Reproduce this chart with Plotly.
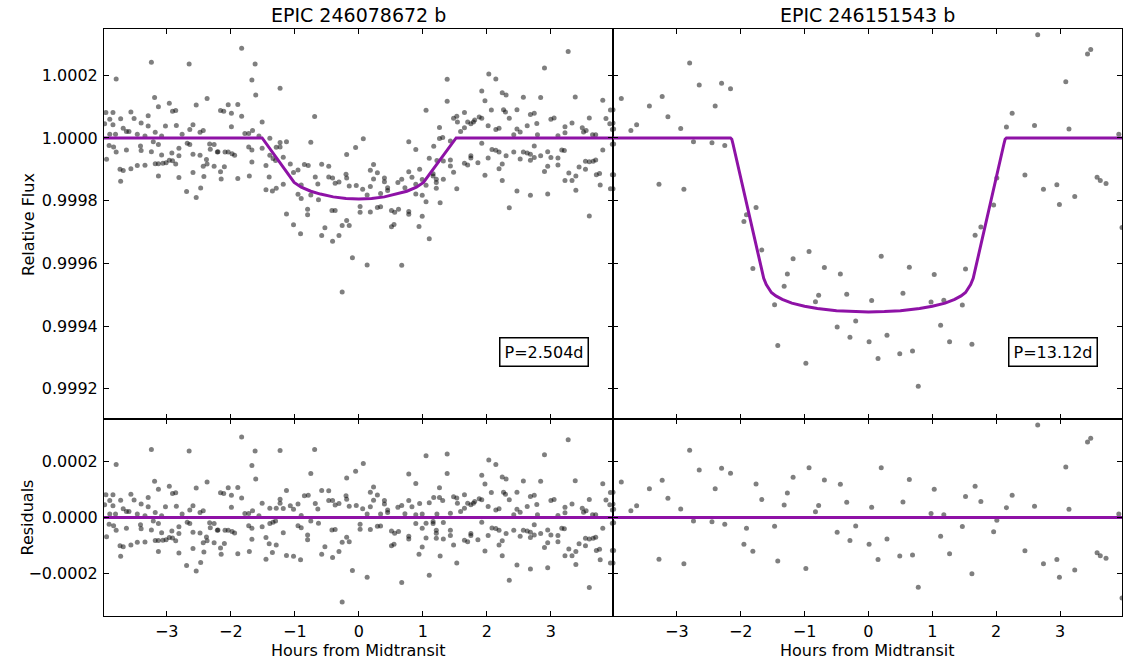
import numpy as np
import plotly.graph_objects as go
from plotly.subplots import make_subplots

# ---------------- data ----------------
TITLES = ["EPIC 246078672 b", "EPIC 246151543 b"]
PERIOD_LABELS = ["P=2.504d", "P=13.12d"]
X_TICKS = [-3, -2, -1, 0, 1, 2, 3]
FLUX_TICKS = [0.9992, 0.9994, 0.9996, 0.9998, 1.0000, 1.0002]
RESID_TICKS = [-0.0002, 0.0, 0.0002]
RESID_TICKTEXT = ["\u22120.0002", "0.0000", "0.0002"]
RESID_UNIT = 1e-4

# transit models (hours from midtransit, relative flux)
LEFT_MODEL_X = [-3.98, -1.51, -1.01, -0.9, -0.75, -0.6, -0.4, -0.2, 0.0,
                0.2, 0.4, 0.6, 0.75, 0.9, 1.01, 1.52, 3.97]
LEFT_MODEL_Y = [1.0, 1.0, 0.999858, 0.999843, 0.999830, 0.999821, 0.999812, 0.999807, 0.999805,
                0.999807, 0.999812, 0.999821, 0.999830, 0.999843, 0.999858, 1.0, 1.0]
RIGHT_MODEL_X = [-4.0, -2.16, -2.14, -2.12, -1.64, -1.60, -1.52, -1.45, -1.35, -1.2, -1.0, -0.8, -0.5, -0.25, 0.0,
                 0.25, 0.5, 0.8, 1.0, 1.2, 1.35, 1.45, 1.52, 1.60, 1.64, 2.12, 2.14, 2.16, 3.97]
RIGHT_MODEL_Y = [1.0, 1.0, 0.999996, 0.99998, 0.999552, 0.999532, 0.999507, 0.999496, 0.999485, 0.999473, 0.999463,
                 0.999456, 0.999449, 0.999446, 0.999445,
                 0.999446, 0.999449, 0.999456, 0.999463, 0.999473, 0.999485, 0.999496, 0.999507, 0.999532,
                 0.999552, 0.99998, 0.999996, 1.0, 1.0]

# residuals (hours, residual in units of 1e-4) for EPIC 246078672 b
LEFT_PTS_A = [(-3.79, 1.88), (-3.95, 0.81), (-3.84, 0.81), (-3.89, 0.60), (-3.84, 0.42), (-3.97, 0.45),
              (-3.89, 0.12), (-3.80, 0.12), (-3.72, 0.61), (-3.68, 0.31), (-3.63, 0.21), (-3.59, 0.21),
              (-3.56, 0.83), (-3.51, 0.62), (-3.46, 0.12), (-3.40, 0.48), (-3.34, 0.06), (-3.29, 0.71),
              (-3.29, 0.38), (-3.24, 2.42), (-3.19, 1.29), (-3.18, 0.18), (-3.13, 1.00), (-3.08, 0.06),
              (-3.02, 0.38), (-2.96, 1.11), (-2.91, 0.85), (-2.86, 0.88), (-2.85, 0.40), (-2.76, 0.12),
              (-2.65, 2.36), (-2.64, 0.27), (-2.59, 0.42), (-2.54, 1.05), (-2.48, 0.18), (-2.43, 0.24),
              (-2.37, 1.26), (-2.16, 0.88), (-2.11, 0.85), (-2.04, 1.06), (-1.99, 0.79), (-1.99, 0.36),
              (-1.89, 1.07), (-1.83, 2.86), (-1.83, 0.69), (-1.78, 0.14), (-1.72, 0.14), (-1.67, 1.85),
              (-1.66, 0.24), (-1.62, 2.36), (-1.61, 1.37), (-1.56, 0.06), (-1.51, 0.51), (-1.39, 0.33),
              (-1.29, 0.33), (-1.23, 2.38), (-1.23, 0.65), (-1.23, 0.51), (-1.18, 0.32), (-1.13, 0.96),
              (-1.07, 0.42), (-1.02, 0.29), (-0.95, 0.48), (-0.90, 0.07), (-0.85, 0.77), (-0.79, 0.79),
              (-0.75, 1.56), (-0.69, 2.42), (-0.68, 0.50), (-0.64, 0.30), (-0.58, 0.96), (-0.47, 0.95),
              (-0.47, 0.60), (-0.41, 0.60), (-0.37, 0.44), (-0.31, 0.50), (-0.20, 0.77), (-0.19, 1.40),
              (-0.19, 0.65), (-0.15, 0.40), (-0.05, 1.64), (-0.04, 0.43), (-0.10, -1.88), (-0.26, -3.00)]
LEFT_PTS_B = [(-3.94, -0.68), (-3.90, -0.24), (-3.83, -0.29), (-3.79, -0.45), (-3.73, -1.00), (-3.68, -1.04),
              (-3.72, -1.38), (-3.63, -0.38), (-3.56, -0.98), (-3.46, -0.88), (-3.41, -0.26), (-3.40, -0.40),
              (-3.34, -0.87), (-3.24, -0.44), (-3.21, -0.12), (-3.18, -0.82), (-3.13, -0.82), (-3.13, -0.21),
              (-3.13, -1.21), (-3.08, -0.54), (-3.06, -0.81), (-3.01, -0.79), (-2.96, -0.71), (-2.91, -0.73),
              (-2.92, -0.48), (-2.86, -0.83), (-2.81, -0.33), (-2.81, -0.57), (-2.81, -1.26), (-2.69, -1.71),
              (-2.68, -0.17), (-2.64, -0.21), (-2.59, -0.52), (-2.59, -1.10), (-2.54, -1.90), (-2.48, -0.55),
              (-2.47, -1.60), (-2.43, -0.90), (-2.42, -1.23), (-2.38, -0.69), (-2.37, -0.83), (-2.33, -0.19),
              (-2.32, -0.36), (-2.26, -0.90), (-2.26, -0.21), (-2.21, -0.45), (-2.20, -0.44), (-2.16, -1.08),
              (-2.15, -1.31), (-2.10, -0.92), (-2.09, -0.45), (-2.04, -0.45), (-1.98, -0.50), (-1.94, -0.55),
              (-1.89, -1.29), (-1.72, -0.29), (-1.71, -1.21), (-1.67, -0.38), (-1.67, -0.77), (-1.51, -0.33),
              (-1.45, -0.71), (-1.45, -1.48), (-1.40, -0.93), (-1.35, -1.24), (-1.39, -0.21), (-1.34, -0.17),
              (-1.30, -0.12), (-1.29, -0.98), (-1.18, -0.54), (-1.13, -1.35), (-1.02, -1.38), (-0.95, -0.29),
              (-0.91, -1.50), (-0.90, -0.36), (-0.80, -0.62), (-0.80, -0.79), (-0.75, -0.12), (-0.63, -0.20),
              (-0.58, -1.31), (-0.53, -1.04), (-0.42, -0.44), (-0.37, -0.43), (-0.41, -1.42), (-0.31, -1.21),
              (-0.26, -0.88), (-0.19, -0.70), (-0.15, -0.86)]
LEFT_PTS_C = [(0.07, 1.92), (0.06, 0.31), (0.13, 0.12), (0.18, 0.90), (0.23, 1.08), (0.23, 0.61),
              (0.29, 0.80), (0.18, 0.38), (0.34, 0.12), (0.40, 0.60), (0.40, 0.48), (0.45, 0.27),
              (0.45, 0.18), (0.61, 0.36), (0.67, 0.43), (0.72, 0.13), (0.78, 1.55), (0.78, 0.60),
              (0.83, 0.38), (0.89, 1.21), (0.89, 0.10), (0.95, 0.50), (0.99, 0.12), (1.05, 2.19),
              (1.10, 0.52), (1.17, 0.71), (1.22, 0.12), (1.26, 0.71), (1.26, 1.06), (1.31, 0.60),
              (1.38, 2.26), (1.38, 1.56), (1.43, 0.15), (1.48, 0.74), (1.53, 0.69), (1.54, 0.51),
              (1.59, 0.21), (1.65, 0.81), (1.65, 0.33), (1.70, 0.51), (1.75, 0.45), (1.79, 0.51),
              (1.81, 0.57), (1.88, 0.67), (1.92, 0.63), (1.92, 1.50), (1.97, 1.19), (2.02, 0.39),
              (2.03, 2.04), (2.07, 0.89), (2.14, 1.88), (2.14, 0.27), (2.19, 0.31), (2.24, 1.44),
              (2.26, 0.90), (2.30, 1.37), (2.29, 0.83), (2.35, 0.63), (2.42, 0.10), (2.47, 0.90),
              (2.47, 0.29), (2.52, 0.19), (2.57, 1.30), (2.63, 0.39), (2.68, 0.75), (2.74, 0.79),
              (2.78, 0.46), (2.79, 0.10), (2.84, 1.29), (2.90, 2.23), (3.00, 0.60), (3.05, 0.64),
              (3.11, 0.07), (3.22, 0.17), (3.22, 0.36), (3.27, 2.76), (3.33, 0.48), (3.38, 1.31),
              (3.49, 0.33), (3.51, 0.19), (3.55, 0.24), (3.60, 0.64), (3.65, 0.10), (3.70, 0.10),
              (3.81, 1.20), (3.86, 0.62), (3.93, 0.89), (3.92, 0.45), (3.96, 0.27)]
LEFT_PTS_D = [(0.02, -0.24), (0.02, -0.42), (0.13, -2.12), (0.18, -0.43), (0.29, -0.31), (0.34, -0.30),
              (0.51, -0.48), (0.51, -1.00), (0.55, -0.95), (0.56, -0.56), (0.62, -0.50), (0.67, -2.31),
              (0.78, -0.67), (0.78, -0.76), (0.89, -0.21), (0.94, -1.31), (0.99, -0.38), (0.99, -1.05),
              (1.05, -0.20), (1.05, -0.73), (1.10, -2.05), (1.16, -0.14), (1.16, -0.21), (1.21, -0.45),
              (1.21, -0.56), (1.21, -0.74), (1.27, -1.37), (1.32, -0.18), (1.32, -0.76), (1.43, -0.45),
              (1.43, -0.64), (1.48, -0.98), (1.53, -1.62), (1.65, -0.81), (1.70, -0.86), (1.75, -0.64),
              (1.75, -0.57), (1.86, -0.79), (1.92, -0.17), (1.97, -1.19), (2.02, -0.64), (2.08, -0.37),
              (2.14, -0.39), (2.19, -0.45), (2.19, -0.98), (2.24, -0.83), (2.24, -1.36), (2.30, -0.57),
              (2.35, -2.23), (2.42, -0.45), (2.47, -1.69), (2.52, -0.67), (2.57, -0.45), (2.63, -0.48),
              (2.68, -0.52), (2.68, -0.71), (2.68, -1.83), (2.74, -0.26), (2.74, -0.62), (2.84, -0.57),
              (2.90, -1.07), (2.95, -0.44), (2.95, -0.90), (2.95, -1.79), (3.00, -0.62), (3.11, -0.86),
              (3.11, -0.64), (3.17, -0.38), (3.21, -0.40), (3.22, -1.36), (3.28, -1.12), (3.33, -1.36),
              (3.39, -1.21), (3.39, -1.67), (3.44, -0.93), (3.54, -1.00), (3.54, -0.74), (3.60, -0.76),
              (3.66, -0.74), (3.70, -0.70), (3.60, -2.49), (3.71, -1.17), (3.76, -1.13), (3.77, -1.50),
              (3.81, -0.38), (3.93, -1.62), (3.96, -1.17), (3.96, -0.20)]

# residuals (hours, residual in units of 1e-4) for EPIC 246151543 b
RIGHT_PTS = [(-4.0, 0.90), (-4.0, 0.48), (-3.99, 0.29), (-3.99, -0.19), (-3.99, -1.17), (-4.0, -1.62),
             (-3.87, 1.26), (-3.72, 0.24), (-3.63, 0.42), (-3.43, 1.02), (-3.28, -1.48), (-3.23, 1.32),
             (-3.14, 0.68), (-2.94, 0.30), (-2.89, -1.64), (-2.80, 2.39), (-2.74, -0.12), (-2.65, 1.69),
             (-2.45, -0.15), (-2.40, 1.02), (-2.30, 1.75), (-2.25, -0.24), (-2.16, 1.57), (-1.95, -0.95),
             (-1.91, -0.38), (-1.81, -1.20), (-1.76, 1.19), (-1.67, 0.64), (-1.47, -0.31), (-1.42, -1.55),
             (-1.32, 0.44), (-1.27, 0.87), (-1.18, 1.43), (-0.98, -1.81), (-0.93, 1.77), (-0.83, 0.20),
             (-0.78, 0.43), (-0.69, 1.33), (-0.49, -0.52), (-0.44, 1.18), (-0.34, 0.54), (-0.29, -0.82),
             (-0.20, -0.30), (0.01, -0.95), (0.05, 0.36), (0.15, -1.49), (0.20, 1.77), (0.29, -0.76),
             (0.49, -1.37), (0.54, 0.55), (0.64, 1.35), (0.69, -1.33), (0.78, -2.48), (0.98, 0.14),
             (1.03, 1.00), (1.13, -0.67), (1.18, 0.10), (1.27, -1.29), (1.47, -0.32), (1.52, 0.75),
             (1.62, -2.00), (1.67, 1.11), (1.76, 0.57), (1.96, -0.51), (2.01, -0.10), (2.16, 0.35),
             (2.25, 0.79), (2.45, -1.18), (2.60, 0.40), (2.65, 3.29), (2.74, -1.64), (2.95, -1.49),
             (2.99, -2.12), (3.09, 1.79), (3.14, 0.29), (3.23, -1.87), (3.43, 2.68), (3.48, 2.82),
             (3.58, -1.25), (3.63, -1.36), (3.72, -1.45), (3.92, 0.12), (3.97, -2.86)]

X_RANGES = [[-3.98, 3.97], [-4.0, 3.97]]
FLUX_RANGE = [0.9991033, 1.0003477]
RESID_RANGE = [-0.00035, 0.00035]

# ---------------- figure ----------------
FONT = "DejaVu Sans"
PURPLE = "#8E12A6"
DOT = "rgba(0,0,0,0.5)"

fig = make_subplots(rows=2, cols=2, row_heights=[0.6644, 0.3356],
                    horizontal_spacing=0, vertical_spacing=0)

panels = [
    (LEFT_PTS_A + LEFT_PTS_B + LEFT_PTS_C + LEFT_PTS_D, LEFT_MODEL_X, LEFT_MODEL_Y),
    (RIGHT_PTS, RIGHT_MODEL_X, RIGHT_MODEL_Y),
]

for col, (pts, mx, my) in enumerate(panels, start=1):
    hx = np.array([p[0] for p in pts])
    res = np.array([p[1] for p in pts]) * RESID_UNIT
    mxa = np.array(mx)
    mya = np.array(my)
    flux = np.interp(hx, mxa, mya) + res
    fig.add_trace(go.Scatter(x=hx, y=flux, mode="markers",
                             marker=dict(size=5, color=DOT, line=dict(width=0)),
                             showlegend=False, hoverinfo="skip"), row=1, col=col)
    fig.add_trace(go.Scatter(x=mxa, y=mya, mode="lines",
                             line=dict(color=PURPLE, width=3),
                             showlegend=False, hoverinfo="skip"), row=1, col=col)
    fig.add_trace(go.Scatter(x=hx, y=res, mode="markers",
                             marker=dict(size=5, color=DOT, line=dict(width=0)),
                             showlegend=False, hoverinfo="skip"), row=2, col=col)
    fig.add_trace(go.Scatter(x=mxa, y=mya - mya, mode="lines",
                             line=dict(color=PURPLE, width=3),
                             showlegend=False, hoverinfo="skip"), row=2, col=col)

axis_common = dict(showline=True, linecolor="black", linewidth=1, mirror="ticks",
                   ticks="inside", ticklen=5, tickwidth=1, tickcolor="black",
                   showgrid=False, zeroline=False, automargin=False,
                   tickfont=dict(family=FONT, size=16, color="black"))

for col in (1, 2):
    for row in (1, 2):
        fig.update_xaxes(range=X_RANGES[col - 1], tickvals=X_TICKS,
                         showticklabels=(row == 2), ticklabelstandoff=1,
                         **axis_common, row=row, col=col)
    fig.update_yaxes(range=FLUX_RANGE, tickvals=FLUX_TICKS, tickformat=".4f",
                     showticklabels=(col == 1), ticklabelstandoff=2,
                     **axis_common, row=1, col=col)
    fig.update_yaxes(range=RESID_RANGE, tickvals=RESID_TICKS, ticktext=RESID_TICKTEXT,
                     showticklabels=(col == 1), ticklabelstandoff=2,
                     **axis_common, row=2, col=col)

annotations = []
top_refs = [("x domain", "y domain"), ("x2 domain", "y2 domain")]
bot_refs = [("x3 domain", "y3 domain"), ("x4 domain", "y4 domain")]
for i in range(2):
    xr, yr = top_refs[i]
    annotations.append(dict(text=TITLES[i], xref=xr, yref=yr, x=0.5, y=1,
                            xanchor="center", yanchor="middle", yshift=14, showarrow=False,
                            font=dict(family=FONT, size=19, color="black")))
    annotations.append(dict(text=PERIOD_LABELS[i], xref=xr, yref=yr, x=0.952, y=0.1326,
                            xanchor="right", yanchor="bottom", showarrow=False,
                            bordercolor="black", borderwidth=1.5, borderpad=4, bgcolor="white",
                            font=dict(family=FONT, size=16, color="black")))
    bxr, byr = bot_refs[i]
    annotations.append(dict(text="Hours from Midtransit", xref=bxr, yref=byr, x=0.5, y=0,
                            xanchor="center", yanchor="middle", yshift=-34, showarrow=False,
                            font=dict(family=FONT, size=16, color="black")))

annotations.append(dict(text="Relative Flux", xref="paper", yref="y domain", x=-0.0747, y=0.5,
                        xanchor="center", yanchor="middle", textangle=-90, showarrow=False,
                        font=dict(family=FONT, size=16, color="black")))
annotations.append(dict(text="Residuals", xref="paper", yref="y3 domain", x=-0.0747, y=0.5,
                        xanchor="center", yanchor="middle", textangle=-90, showarrow=False,
                        font=dict(family=FONT, size=16, color="black")))

fig.update_layout(width=1123, height=662,
                  margin=dict(l=104, r=1, t=29, b=46, autoexpand=False),
                  paper_bgcolor="white", plot_bgcolor="white",
                  font=dict(family=FONT, size=16, color="black"),
                  annotations=annotations, showlegend=False)

fig.write_html("out.html", config={"displayModeBar": False, "staticPlot": True},
               post_script="document.body.style.margin='0';document.body.style.overflow='hidden';")
